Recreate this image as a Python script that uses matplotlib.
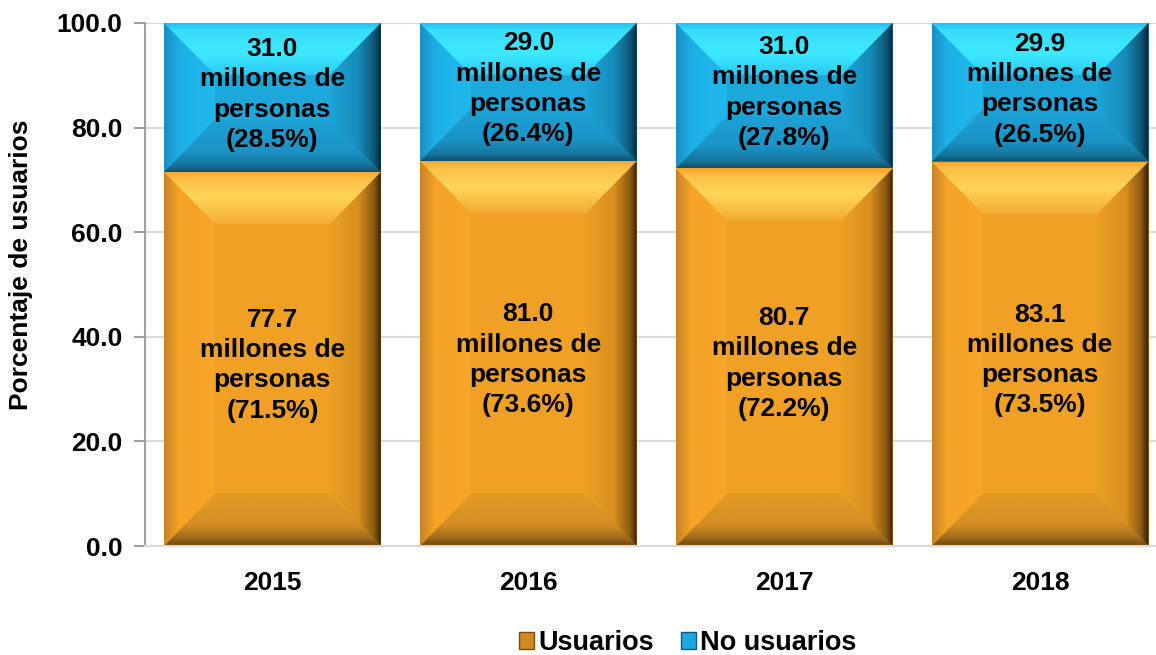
import numpy as np
import matplotlib.pyplot as plt
from matplotlib.patches import Polygon, Patch
from matplotlib.colors import LinearSegmentedColormap

plt.rcParams['font.family'] = ['Liberation Sans', 'DejaVu Sans']
plt.rcParams['font.weight'] = 'bold'

# datos
anios = ["2015", "2016", "2017", "2018"]
usuarios_pct = [71.5, 73.6, 72.2, 73.5]
no_usuarios_pct = [28.5, 26.4, 27.8, 26.5]
usuarios_mill = [77.7, 81.0, 80.7, 83.1]
no_usuarios_mill = [31.0, 29.0, 31.0, 29.9]

# colores del bisel: paradas desde el borde interior hasta el borde exterior
estilo = {
    "Usuarios": dict(
        base="#F0A024",
        top=[(0, "#F3AC34"), (0.5, "#FFD55A"), (0.85, "#FCC048"), (1, "#F6A42A")],
        bot=[(0, "#E39A24"), (0.6, "#D48E24"), (0.85, "#A06A1C"), (1, "#6E4410")],
        left=[(0, "#F8A628"), (0.7, "#F6A428"), (1, "#C88420")],
        right=[(0, "#ECA024"), (0.55, "#D88E20"), (0.85, "#8C5A14"), (1, "#2E1C06")],
    ),
    "No usuarios": dict(
        base="#1DA8DC",
        top=[(0, "#2CC8F4"), (0.4, "#3EEAFF"), (0.85, "#38DCFA"), (1, "#22BCEC")],
        bot=[(0, "#1CA2D6"), (0.6, "#1A94C6"), (0.85, "#16789E"), (1, "#0E5270")],
        left=[(0, "#20B8EE"), (0.7, "#1EB0E6"), (1, "#1890C2")],
        right=[(0, "#1CA4D8"), (0.55, "#188CBA"), (0.85, "#0E5878"), (1, "#03202E")],
    ),
}

fig = plt.figure(figsize=(11.56, 6.55), dpi=100)
ax = fig.add_axes([0.1254, 0.1664, 0.8746, 0.7985])

x = np.arange(len(anios))
width = 0.848
bx, by = 0.2, 10.0


def gradiente(ax, pts, paradas, vertical, out_high):
    poly = Polygon(pts, closed=True, facecolor="none", edgecolor="none")
    ax.add_patch(poly)
    cmap = LinearSegmentedColormap.from_list("g", paradas)
    g = np.linspace(0, 1, 128)
    if not out_high:
        g = g[::-1]
    img = g.reshape(-1, 1) if vertical else g.reshape(1, -1)
    xs = [p[0] for p in pts]
    ys = [p[1] for p in pts]
    im = ax.imshow(img, cmap=cmap, vmin=0, vmax=1, extent=(min(xs), max(xs), min(ys), max(ys)),
                   origin="lower", aspect="auto", interpolation="bilinear", zorder=2)
    im.set_clip_path(poly)


def barra_bisel(ax, xc, y0, h, st):
    l, r = xc - width / 2, xc + width / 2
    t = y0 + h
    ax.bar(xc, h, width, bottom=y0, color=st["base"], zorder=1)
    gradiente(ax, [(l, t), (r, t), (r - bx, t - by), (l + bx, t - by)], st["top"], True, True)
    gradiente(ax, [(l, y0), (r, y0), (r - bx, y0 + by), (l + bx, y0 + by)], st["bot"], True, False)
    gradiente(ax, [(l, y0), (l + bx, y0 + by), (l + bx, t - by), (l, t)], st["left"], False, False)
    gradiente(ax, [(r, y0), (r - bx, y0 + by), (r - bx, t - by), (r, t)], st["right"], False, True)


for i in range(len(anios)):
    barra_bisel(ax, x[i], 0, usuarios_pct[i], estilo["Usuarios"])
    barra_bisel(ax, x[i], usuarios_pct[i], no_usuarios_pct[i], estilo["No usuarios"])
    ax.text(x[i], usuarios_pct[i] / 2 - 1.2,
            f"{usuarios_mill[i]:.1f}\nmillones de\npersonas\n({usuarios_pct[i]:.1f}%)",
            ha="center", va="center", fontsize=19, fontweight="bold", zorder=5, linespacing=1.33)
    ax.text(x[i], usuarios_pct[i] + no_usuarios_pct[i] / 2 + 0.6,
            f"{no_usuarios_mill[i]:.1f}\nmillones de\npersonas\n({no_usuarios_pct[i]:.1f}%)",
            ha="center", va="center", fontsize=19, fontweight="bold", zorder=5, linespacing=1.33)

ax.set_xlim(-0.498, 3.453)
ax.set_ylim(0, 100)
ax.set_yticks(np.arange(0, 101, 20))
ax.set_yticklabels([f"{v:.1f}" for v in np.arange(0, 101, 20)], fontsize=19, fontweight="bold")
ax.set_xticks(x)
ax.set_xticklabels(anios, fontsize=19, fontweight="bold")
ax.tick_params(axis="x", length=0, pad=18)
ax.tick_params(axis="y", length=8, color="#A0A0A0", width=1.5, pad=8)
ax.set_ylabel("Porcentaje de usuarios", fontsize=19, fontweight="bold")
ax.yaxis.set_label_coords(-0.111, 0.537)

ax.grid(axis="y", color="#D9D9D9", linewidth=1.5, zorder=0)
ax.set_axisbelow(True)
for s in ["top", "right"]:
    ax.spines[s].set_visible(False)
ax.spines["left"].set_color("#A0A0A0")
ax.spines["bottom"].set_color("#D9D9D9")
ax.spines["left"].set_linewidth(1.5)
ax.spines["bottom"].set_linewidth(1.5)

handles = [Patch(facecolor="#D08A22", edgecolor="#7A4C12", label="Usuarios"),
           Patch(facecolor="#1DA8DC", edgecolor="#0E5A7C", label="No usuarios")]
fig.legend(handles=handles, loc="center", bbox_to_anchor=(0.595, 0.018), ncol=2, frameon=False,
           prop={"size": 19.5, "weight": "bold"}, handlelength=0.55, handleheight=0.55,
           handletextpad=0.15, columnspacing=1.0)

plt.savefig("out.png", dpi=100)
